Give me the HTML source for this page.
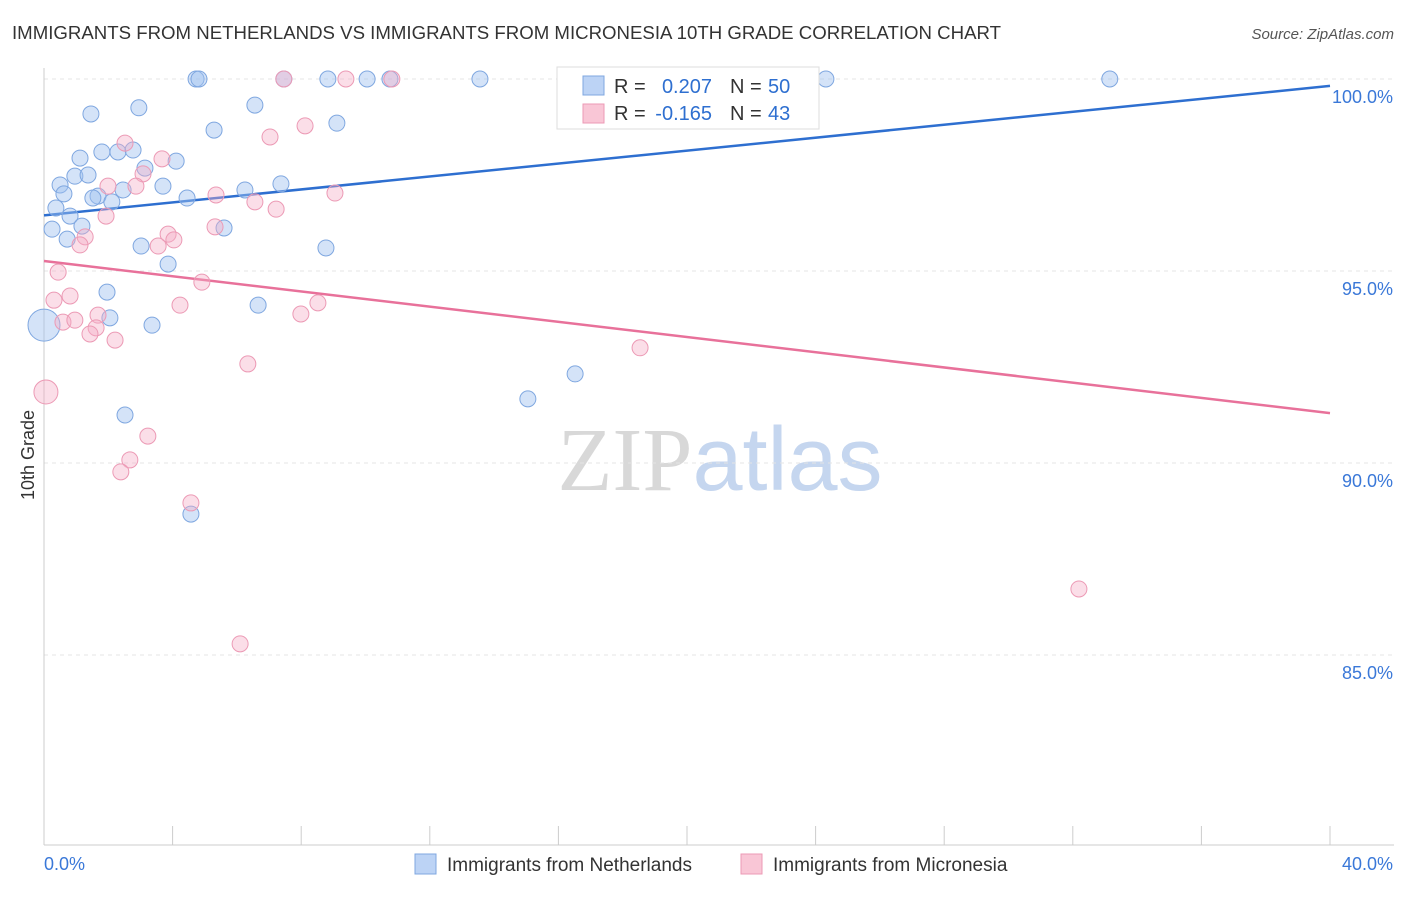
<!DOCTYPE html>
<html><head><meta charset="utf-8"><style>
body{margin:0;background:#fff;font-family:"Liberation Sans",sans-serif;}
svg text{font-family:"Liberation Sans",sans-serif;}
</style></head><body>
<svg id="chart" width="1406" height="892" xmlns="http://www.w3.org/2000/svg">
<text x="12" y="39" font-size="18" fill="#333" textLength="989" lengthAdjust="spacingAndGlyphs">IMMIGRANTS FROM NETHERLANDS VS IMMIGRANTS FROM MICRONESIA 10TH GRADE CORRELATION CHART</text>
<text x="1394" y="39" font-size="15" fill="#555" text-anchor="end" font-style="italic">Source: ZipAtlas.com</text>
<text x="720" y="490" font-size="90" text-anchor="middle"><tspan fill="#d8d8d8" font-family="Liberation Serif">ZIP</tspan><tspan fill="#c5d6ef">atlas</tspan></text>
<text transform="translate(34,455) rotate(-90)" font-size="18" fill="#333" text-anchor="middle">10th Grade</text>
<g id="grid"></g><g id="axes"></g><g id="lines"></g><g id="points"></g>
<g>
<rect x="557" y="67" width="262" height="62" fill="#fff" stroke="#ddd"/>
<rect x="583" y="76" width="21" height="19" fill="#bcd3f5" stroke="#7fa7e0"/>
<text x="614" y="93" font-size="20" fill="#333">R =</text>
<text x="712" y="93" font-size="20" fill="#2e6fd0" text-anchor="end">0.207</text>
<text x="730" y="93" font-size="20" fill="#333">N =</text>
<text x="768" y="93" font-size="20" fill="#2e6fd0">50</text>
<rect x="583" y="104" width="21" height="19" fill="#f9c6d6" stroke="#ec9ab5"/>
<text x="614" y="120" font-size="20" fill="#333">R =</text>
<text x="712" y="120" font-size="20" fill="#2e6fd0" text-anchor="end">-0.165</text>
<text x="730" y="120" font-size="20" fill="#333">N =</text>
<text x="768" y="120" font-size="20" fill="#2e6fd0">43</text>
</g>
<g>
<rect x="415" y="854" width="21" height="20" fill="#bcd3f5" stroke="#7fa7e0"/>
<text x="447" y="871" font-size="19" fill="#333">Immigrants from Netherlands</text>
<rect x="741" y="854" width="21" height="20" fill="#f9c6d6" stroke="#ec9ab5"/>
<text x="773" y="871" font-size="19" fill="#333">Immigrants from Micronesia</text>
</g>
</svg>
<script>
const blueX=[4.73,4.82,7.46,8.83,10.05,10.76,13.56,24.32,33.15,1.46,2.95,6.56,5.29,9.11,1.12,1.80,2.30,2.77,4.11,3.14,0.50,0.96,1.37,0.62,1.68,2.11,2.46,3.70,4.45,6.25,7.37,0.37,0.81,0.25,1.18,0.72,3.02,5.60,8.77,3.86,1.96,2.05,3.36,6.66,0,16.52,15.05,2.52,4.57,1.52];
const blueY=[100,100,100,100,100,100,100,100,100,99.09,99.25,99.32,98.67,98.85,97.94,98.10,98.10,98.15,97.86,97.68,97.24,97.47,97.50,97.01,96.95,96.80,97.11,97.21,96.90,97.11,97.27,96.64,96.43,96.09,96.17,95.83,95.65,96.12,95.60,95.18,94.45,93.78,93.59,94.11,93.59,92.32,91.67,91.25,88.67,96.90];
const pinkX=[7.46,9.39,10.82,2.52,7.03,8.12,3.67,3.08,1.99,2.86,5.35,6.56,7.22,9.05,1.93,5.32,3.86,1.28,1.12,3.55,4.04,0.44,0.31,0.81,4.91,4.23,8.52,7.99,0.59,0.96,1.68,1.62,1.43,2.21,6.34,18.54,0.06,3.23,2.67,2.39,4.57,6.10,32.19];
const pinkY=[100,100,100,98.33,98.49,98.78,97.92,97.53,97.21,97.21,96.98,96.80,96.61,97.03,96.43,96.15,95.96,95.89,95.68,95.65,95.81,94.97,94.24,94.35,94.71,94.11,94.17,93.88,93.67,93.72,93.85,93.52,93.36,93.20,92.58,93.00,91.85,90.70,90.08,89.77,88.96,85.29,86.72];
const blueBig=[44];const pinkBig=[36];
const blueTrend=[96.45,99.82];const pinkTrend=[95.26,91.30];
const yTicks=[100,95,90,85];const yTickLabels=["100.0%","95.0%","90.0%","85.0%"];
const xTicks=[0,4,8,12,16,20,24,28,32,36,40];
const NS="http://www.w3.org/2000/svg";
const xs=v=>44+v/40*1286;
const ys=v=>79+(100-v)*38.4;
function mk(tag,attrs,parent){const e=document.createElementNS(NS,tag);for(const k in attrs)e.setAttribute(k,attrs[k]);document.getElementById(parent).appendChild(e);return e;}
yTicks.forEach((t,i)=>{
 const l=mk('line',{x1:44,x2:1394,y1:ys(t),y2:ys(t),stroke:'#e4e4e4','stroke-dasharray':'4,4'},'grid');
 
 
 const tx=mk('text',{x:1393,y:ys(t)+24,'font-size':18,fill:'#3a78d8','text-anchor':'end'},'axes');
 tx.textContent=yTickLabels[i];
 
 
});
const ax=mk('line',{x1:44,x2:44,y1:68,y2:845,stroke:'#ccc'},'axes');


const bx=mk('line',{x1:44,x2:1394,y1:845,y2:845,stroke:'#ccc'},'axes');


xTicks.forEach(t=>{
 const l=mk('line',{x1:xs(t),x2:xs(t),y1:826,y2:845,stroke:'#ccc'},'axes');
 
 
});
const x0=mk('text',{x:44,y:870,'font-size':18,fill:'#3a78d8'},'axes');x0.textContent='0.0%';


const x1=mk('text',{x:1393,y:870,'font-size':18,fill:'#3a78d8','text-anchor':'end'},'axes');x1.textContent='40.0%';


function pts(X,Y,big,bigR,fill,stroke,name){
 X.forEach((v,i)=>{
  const c=mk('circle',{cx:xs(v),cy:ys(Y[i]),r:big.includes(i)?bigR:8,fill:fill,stroke:stroke,'stroke-width':1},'points');
  
  
 });
}
pts(blueX,blueY,blueBig,16,'rgba(160,192,240,0.45)','#7fa7e0','netherlands-point');
pts(pinkX,pinkY,pinkBig,12,'rgba(246,172,198,0.4)','#ec9ab5','micronesia-point');
const bl=mk('line',{x1:xs(0),y1:ys(blueTrend[0]),x2:xs(40),y2:ys(blueTrend[1]),stroke:'#2e6fd0','stroke-width':2.5},'lines');


const pl=mk('line',{x1:xs(0),y1:ys(pinkTrend[0]),x2:xs(40),y2:ys(pinkTrend[1]),stroke:'#e8719a','stroke-width':2.5},'lines');


</script>
</body></html>
